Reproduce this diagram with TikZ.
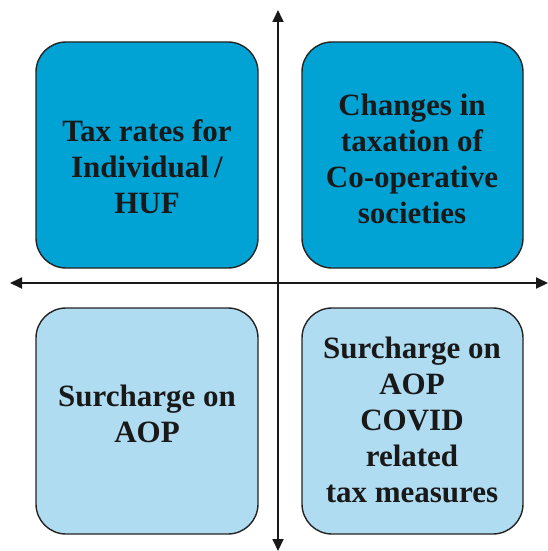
\documentclass[tikz,border=0pt]{standalone}
\usepackage{fontspec}
\setmainfont{Liberation Serif}
\usetikzlibrary{arrows.meta}
\definecolor{darkbox}{RGB}{0,163,212}
\definecolor{lightbox}{RGB}{176,220,241}
\definecolor{edge}{RGB}{35,35,35}
\tikzset{
  quad/.style={draw=edge, line width=1.4pt, rounded corners=30pt},
  lbl/.style={font=\fontsize{31}{36}\selectfont\bfseries, text=black!90, align=center, inner sep=0pt},
  axis/.style={draw=black!90, line width=1.8pt, -{Triangle[length=12pt,width=11pt]}}
}
\begin{document}
\begin{tikzpicture}[x=1pt,y=-1pt]
\useasboundingbox (0,0) rectangle (548,551);
\path[quad, fill=darkbox] (36,42) rectangle (258,268);
\path[quad, fill=darkbox] (302,42) rectangle (523,268);
\path[quad, fill=lightbox] (36,308) rectangle (258,534);
\path[quad, fill=lightbox] (302,308) rectangle (523,534);
\node[lbl] (tl) at (147,167) {Tax rates for\\Individual\,/\\HUF};
\node[lbl] (tr) at (412,159) {Changes in\\taxation of\\Co-operative\\societies};
\node[lbl] (bl) at (147,414) {Surcharge on\\AOP};
\node[lbl] (br) at (412,420) {Surcharge on\\AOP\\COVID\\related\\tax measures};
\coordinate (c) at (278,283);
\coordinate (up) at (278,10);
\coordinate (down) at (278,551);
\coordinate (left) at (10,283);
\coordinate (right) at (548,283);
\draw[axis] (c) -- (up);
\draw[axis] (c) -- (down);
\draw[axis] (c) -- (left);
\draw[axis] (c) -- (right);
\end{tikzpicture}
\end{document}
